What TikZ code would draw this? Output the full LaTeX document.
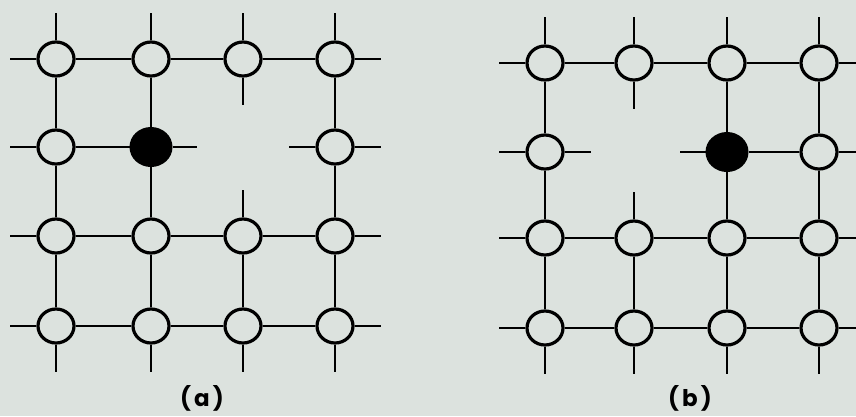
\documentclass[tikz,border=0pt]{standalone}
\usepackage{fontspec}
\newfontfamily\labelfont{Poppins}
\usetikzlibrary{shapes.geometric}
\definecolor{bg}{RGB}{220,226,222}
\begin{document}
\begin{tikzpicture}[x=1pt,y=-1pt,
  site/.style={ellipse,draw=black,line width=3.2pt,fill=bg,minimum width=36pt,minimum height=34pt,inner sep=0pt},
  atom/.style={ellipse,draw=black,line width=2pt,fill=black,minimum width=41pt,minimum height=38pt,inner sep=0pt},
  bond/.style={line width=2.2pt,black},
  lab/.style={font=\labelfont\bfseries\fontsize{23}{25}\selectfont,inner sep=0pt}]
\fill[bg] (0,0) rectangle (856,416);
\useasboundingbox (0,0) rectangle (856,416);
\clip (0,0) rectangle (856,416);

% ---------- panel (a) ----------
\node[site] (a11) at (56,59) {};
\node[site] (a12) at (151,59) {};
\node[site] (a13) at (243,59) {};
\node[site] (a14) at (335,59) {};
\node[site] (a21) at (56,147) {};
\node[atom] (a22) at (151,147) {};
\node[site] (a24) at (335,147) {};
\node[site] (a31) at (56,236) {};
\node[site] (a32) at (151,236) {};
\node[site] (a33) at (243,236) {};
\node[site] (a34) at (335,236) {};
\node[site] (a41) at (56,326) {};
\node[site] (a42) at (151,326) {};
\node[site] (a43) at (243,326) {};
\node[site] (a44) at (335,326) {};

% horizontal
\draw[bond] (a11.west) -- ++(-26,0);
\draw[bond] (a11) -- (a12); \draw[bond] (a12) -- (a13); \draw[bond] (a13) -- (a14);
\draw[bond] (a14.east) -- ++(26,0);
\draw[bond] (a21.west) -- ++(-26,0);
\draw[bond] (a21) -- (a22);
\draw[bond] (a22.east) -- ++(24,0);
\draw[bond] (a24.west) -- ++(-26,0);
\draw[bond] (a24.east) -- ++(26,0);
\draw[bond] (a31.west) -- ++(-26,0);
\draw[bond] (a31) -- (a32); \draw[bond] (a32) -- (a33); \draw[bond] (a33) -- (a34);
\draw[bond] (a34.east) -- ++(26,0);
\draw[bond] (a41.west) -- ++(-26,0);
\draw[bond] (a41) -- (a42); \draw[bond] (a42) -- (a43); \draw[bond] (a43) -- (a44);
\draw[bond] (a44.east) -- ++(26,0);
% vertical
\foreach \n in {a11,a12,a13,a14} \draw[bond] (\n.north) -- ++(0,-27);
\foreach \n in {a41,a42,a43,a44} \draw[bond] (\n.south) -- ++(0,27);
\draw[bond] (a11) -- (a21); \draw[bond] (a21) -- (a31); \draw[bond] (a31) -- (a41);
\draw[bond] (a12) -- (a22); \draw[bond] (a22) -- (a32); \draw[bond] (a32) -- (a42);
\draw[bond] (a13.south) -- ++(0,27);
\draw[bond] (a33.north) -- ++(0,-27);
\draw[bond] (a33) -- (a43);
\draw[bond] (a14) -- (a24); \draw[bond] (a24) -- (a34); \draw[bond] (a34) -- (a44);

\node[lab] (la) at (202,398) {(\hspace{3pt}a\hspace{3pt})};

% ---------- panel (b) ----------
\node[site] (b11) at (545,63) {};
\node[site] (b12) at (634,63) {};
\node[site] (b13) at (727,63) {};
\node[site] (b14) at (819,63) {};
\node[site] (b21) at (545,152) {};
\node[atom] (b23) at (727,152) {};
\node[site] (b24) at (819,152) {};
\node[site] (b31) at (545,238) {};
\node[site] (b32) at (634,238) {};
\node[site] (b33) at (727,238) {};
\node[site] (b34) at (819,238) {};
\node[site] (b41) at (545,328) {};
\node[site] (b42) at (634,328) {};
\node[site] (b43) at (727,328) {};
\node[site] (b44) at (819,328) {};

% horizontal
\draw[bond] (b11.west) -- ++(-26,0);
\draw[bond] (b11) -- (b12); \draw[bond] (b12) -- (b13); \draw[bond] (b13) -- (b14);
\draw[bond] (b14.east) -- ++(26,0);
\draw[bond] (b21.west) -- ++(-26,0);
\draw[bond] (b21.east) -- ++(26,0);
\draw[bond] (b23.west) -- ++(-26,0);
\draw[bond] (b23) -- (b24);
\draw[bond] (b24.east) -- ++(26,0);
\draw[bond] (b31.west) -- ++(-26,0);
\draw[bond] (b31) -- (b32); \draw[bond] (b32) -- (b33); \draw[bond] (b33) -- (b34);
\draw[bond] (b34.east) -- ++(26,0);
\draw[bond] (b41.west) -- ++(-26,0);
\draw[bond] (b41) -- (b42); \draw[bond] (b42) -- (b43); \draw[bond] (b43) -- (b44);
\draw[bond] (b44.east) -- ++(26,0);
% vertical
\foreach \n in {b11,b12,b13,b14} \draw[bond] (\n.north) -- ++(0,-27);
\foreach \n in {b41,b42,b43,b44} \draw[bond] (\n.south) -- ++(0,27);
\draw[bond] (b11) -- (b21); \draw[bond] (b21) -- (b31); \draw[bond] (b31) -- (b41);
\draw[bond] (b12.south) -- ++(0,27);
\draw[bond] (b32.north) -- ++(0,-27);
\draw[bond] (b32) -- (b42);
\draw[bond] (b13) -- (b23); \draw[bond] (b23) -- (b33); \draw[bond] (b33) -- (b43);
\draw[bond] (b14) -- (b24); \draw[bond] (b24) -- (b34); \draw[bond] (b34) -- (b44);

\node[lab] (lb) at (690,398) {(\hspace{3pt}b\hspace{3pt})};
\end{tikzpicture}
\end{document}
